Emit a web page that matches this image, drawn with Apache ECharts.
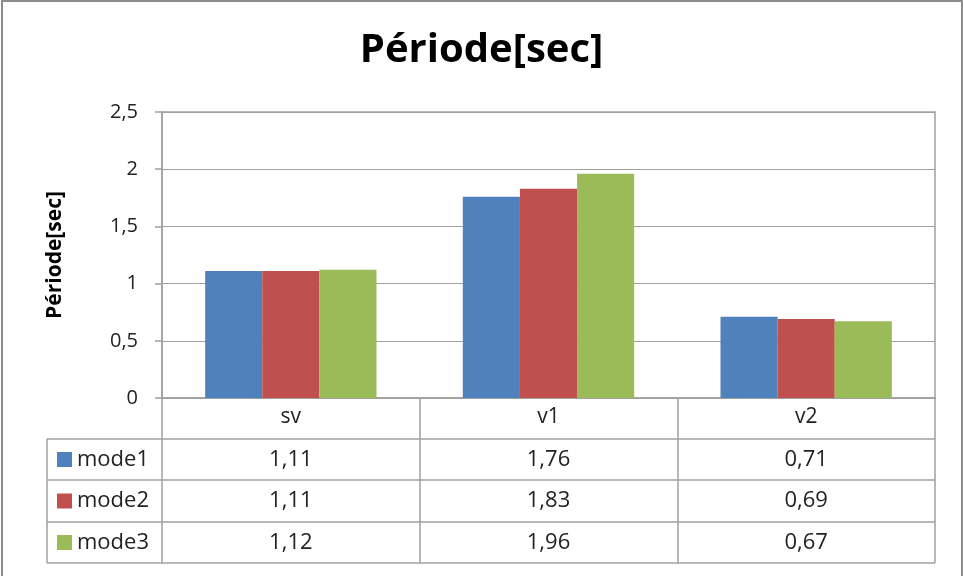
<!DOCTYPE html>
<html lang="fr">
<head>
  <meta charset="UTF-8">
  <title>Période[sec]</title>
  <script src="https://cdn.jsdelivr.net/npm/echarts@6.0.0/dist/echarts.min.js"></script>
  <style>
    html, body { margin: 0; padding: 0; background: #fff; }
    #chart { width: 963px; height: 576px; }
  </style>
</head>
<body>
<div id="chart"></div>
<script>
  const categories = ['sv', 'v1', 'v2']
  const seriesNames = ['mode1', 'mode2', 'mode3']
  const mode1 = [1.11, 1.76, 0.71]
  const mode2 = [1.11, 1.83, 0.69]
  const mode3 = [1.12, 1.96, 0.67]
  const colors = ['#4F81BD', '#C0504D', '#9BBB59']

  const values = [mode1, mode2, mode3]
  const font = '"Open Sans", "Noto Sans", sans-serif'
  const lineCol = '#a0a0a0'
  const fmt = v => String(v).replace('.', ',')

  // table layout (pixels)
  const tableLeft = 47
  const rowEdges = [439, 480, 522, 563]

  const myChart = echarts.init(document.getElementById('chart'))
  const option = {
    animation: false,
    title: {
      text: 'Période[sec]', left: 'center', top: 26,
      textStyle: { fontFamily: font, fontSize: 40, fontWeight: 'bold', color: '#000' }
    },
    grid: { left: 162, right: 28, top: 112, bottom: 178, show: true, borderColor: lineCol, borderWidth: 1.5 },
    xAxis: {
      type: 'category', data: categories, boundaryGap: true,
      axisLine: { lineStyle: { color: lineCol, width: 1.5 } },
      axisTick: { show: true, alignWithLabel: false, interval: 0, length: 165, lineStyle: { color: lineCol, width: 1.5 } },
      axisLabel: { margin: 9, fontFamily: font, fontSize: 21, color: '#222' }
    },
    yAxis: {
      type: 'value', min: 0, max: 2.5, interval: 0.5,
      name: 'Période[sec]', nameLocation: 'middle', nameRotate: 90, nameGap: 96,
      nameTextStyle: { fontFamily: font, fontSize: 21, fontWeight: 'bold', color: '#000' },
      axisLine: { show: true, lineStyle: { color: lineCol, width: 1.5 } },
      axisTick: { show: true, length: 7, lineStyle: { color: lineCol, width: 1.5 } },
      splitLine: { lineStyle: { color: lineCol, width: 1.2 } },
      axisLabel: { margin: 24, fontFamily: font, fontSize: 20, color: '#222', formatter: v => fmt(v) }
    },
    series: seriesNames.map((name, i) => ({
      name: name, type: 'bar', data: values[i],
      itemStyle: { color: colors[i] },
      barGap: '0%', barCategoryGap: '33.5%'
    }))
  }
  myChart.setOption(option)

  // data table below the plot
  const right = myChart.getWidth() - 28
  const g = []
  g.push({ type: 'rect', shape: { x: 2, y: 1, width: 960, height: 600 },
    style: { fill: null, stroke: '#8c8c8c', lineWidth: 2 }, silent: true })
  rowEdges.forEach(y => g.push({ type: 'line', shape: { x1: tableLeft, y1: y, x2: right, y2: y },
    style: { stroke: lineCol, lineWidth: 1.5 } }))
  g.push({ type: 'line', shape: { x1: tableLeft, y1: rowEdges[0], x2: tableLeft, y2: rowEdges[3] },
    style: { stroke: lineCol, lineWidth: 1.5 } })
  seriesNames.forEach((name, i) => {
    const cy = (rowEdges[i] + rowEdges[i + 1]) / 2
    g.push({ type: 'rect', shape: { x: 57, y: cy - 7.5, width: 15, height: 15 }, style: { fill: colors[i] } })
    g.push({ type: 'text', x: 77, y: cy, style: { text: name, font: '22px ' + font, fill: '#222', verticalAlign: 'middle' } })
    categories.forEach((c, j) => {
      const cx = myChart.convertToPixel({ xAxisIndex: 0 }, c)
      g.push({ type: 'text', x: cx, y: cy, style: { text: fmt(values[i][j]), font: '22px ' + font, fill: '#222', align: 'center', verticalAlign: 'middle' } })
    })
  })
  myChart.setOption({ graphic: g })
</script>
</body>
</html>
